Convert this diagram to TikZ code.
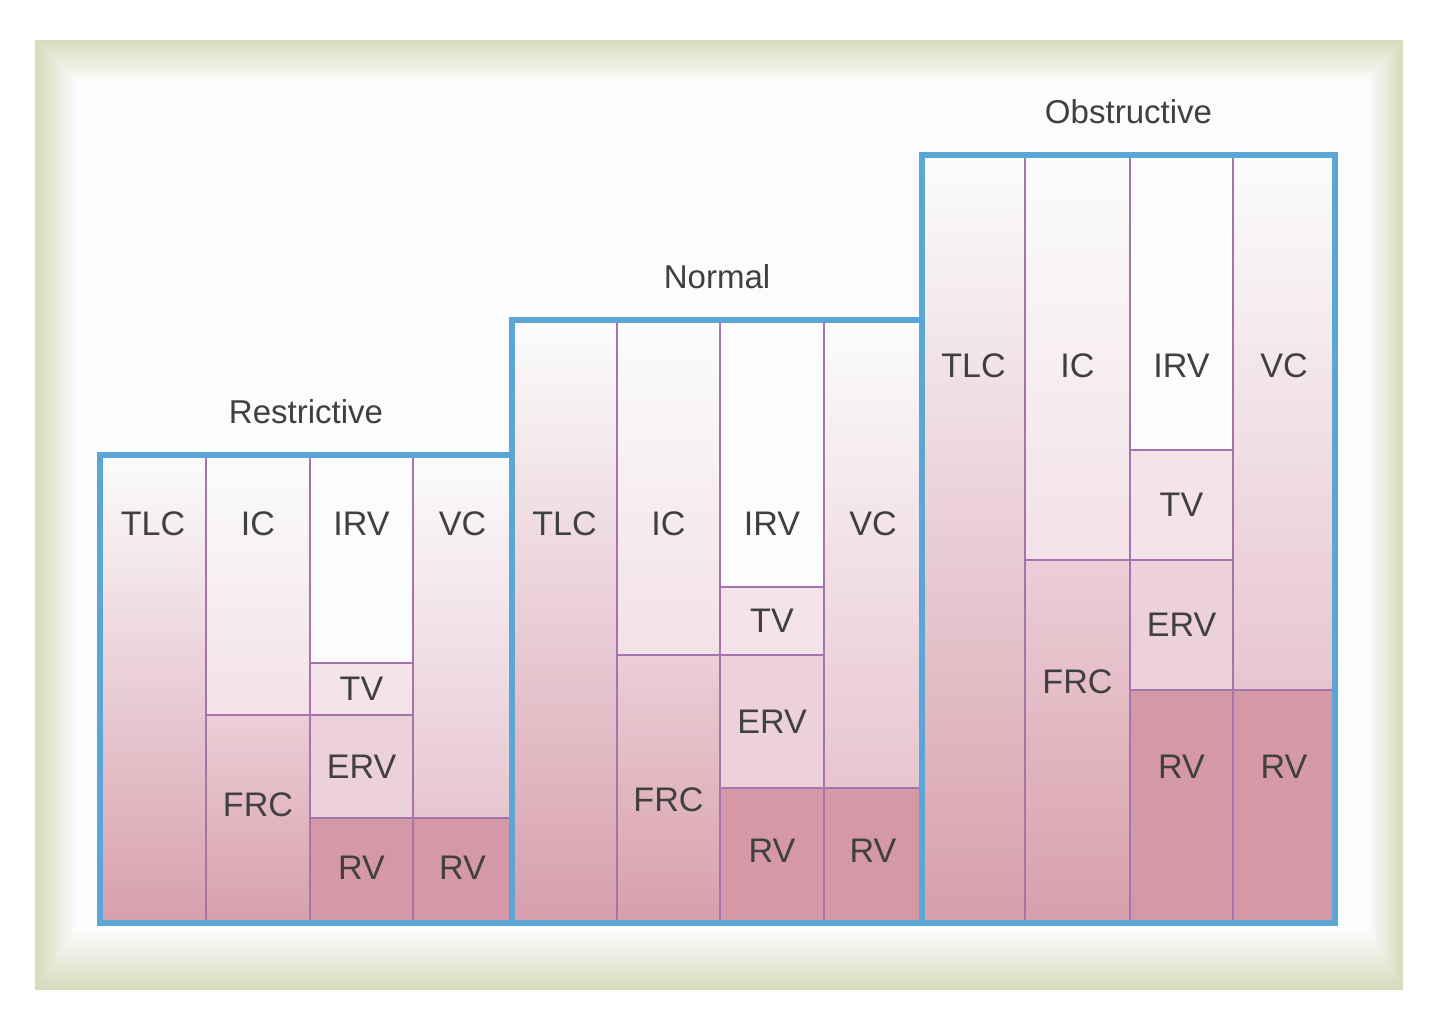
\documentclass[tikz,border=0pt]{standalone}
\usepackage{fontspec}
\setmainfont{Liberation Sans}

\definecolor{framegreen}{RGB}{214,220,188}
\definecolor{paper}{RGB}{251,252,253}
\definecolor{panelblue}{RGB}{92,166,214}
\definecolor{divpurple}{RGB}{165,115,175}
\definecolor{rvpink}{RGB}{213,152,167}
\definecolor{lowpink}{RGB}{215,158,172}
\definecolor{ervpink}{RGB}{236,210,216}
\definecolor{tvpink}{RGB}{244,227,231}
\definecolor{icpink}{RGB}{243,225,230}
\definecolor{vcpink}{RGB}{231,197,207}
\definecolor{frcpink}{RGB}{236,206,214}
\definecolor{labelgray}{RGB}{64,64,64}

\tikzset{
  lbl/.style={text=labelgray, font=\fontsize{9.7}{11}\selectfont, inner sep=0pt},
  ttl/.style={text=labelgray, font=\fontsize{9.4}{11}\selectfont, inner sep=0pt},
  divider/.style={draw=divpurple, line width=0.25mm},
  outline/.style={draw=panelblue, line width=0.6mm},
}

\begin{document}
\begin{tikzpicture}[x=0.1mm, y=-0.1mm]
\useasboundingbox (0,0) rectangle (1440,1008);
\fill[white] (0,0) rectangle (1440,1008);
\foreach \i [evaluate=\i as \p using int(100-100*\i/15)] in {0,...,15}
  \fill[framegreen!\p!paper] (35+2.7*\i,40+2.7*\i) rectangle (1403-2.3*\i,990-4*\i);

\foreach \n/\xa/\xb/\xc/\xd/\xe/\yt/\ys/\yv/\yr/\yl/\yf/\yrv/\title in
  {r/100/206/310/413/512/455/715/663/818/524/805/868/Restrictive,
   n/512/617/720/824/922/320/655/587/788/524/800/851/Normal,
   o/922/1025/1130/1233/1335/155/560/450/690/366/682/767/Obstructive}
{
  \shade[top color=paper, bottom color=lowpink] (\xa,\yt) rectangle (\xb,925);
  \shade[top color=paper, bottom color=icpink] (\xb,\yt) rectangle (\xc,\ys);
  \shade[top color=frcpink, bottom color=lowpink] (\xb,\ys) rectangle (\xc,925);
  \fill[paper] (\xc,\yt) rectangle (\xd,\yv);
  \fill[tvpink] (\xc,\yv) rectangle (\xd,\ys);
  \fill[ervpink] (\xc,\ys) rectangle (\xd,\yr);
  \shade[top color=paper, middle color=vcpink!45!paper, bottom color=vcpink] (\xd,\yt) rectangle (\xe,\yr);
  \fill[rvpink] (\xc,\yr) rectangle (\xe,925);

  \draw[divider] (\xb,\yt) -- (\xb,925);
  \draw[divider] (\xc,\yt) -- (\xc,925);
  \draw[divider] (\xd,\yt) -- (\xd,925);
  \draw[divider] (\xb,\ys) -- (\xd,\ys);
  \draw[divider] (\xc,\yv) -- (\xd,\yv);
  \draw[divider] (\xc,\yr) -- (\xe,\yr);
  \draw[outline] (\xa,\yt) rectangle (\xe,923);

  \node[ttl] (title\n) at (0.5*\xa+0.5*\xe,\yt-43) {\title};
  \node[lbl] (tlc\n) at (0.5*\xa+0.5*\xb,\yl) {TLC};
  \node[lbl] (ic\n) at (0.5*\xb+0.5*\xc,\yl) {IC};
  \node[lbl] (irv\n) at (0.5*\xc+0.5*\xd,\yl) {IRV};
  \node[lbl] (vc\n) at (0.5*\xd+0.5*\xe,\yl) {VC};
  \node[lbl] (tv\n) at (0.5*\xc+0.5*\xd,0.5*\yv+0.5*\ys) {TV};
  \node[lbl] (erv\n) at (0.5*\xc+0.5*\xd,0.5*\ys+0.5*\yr) {ERV};
  \node[lbl] (frc\n) at (0.5*\xb+0.5*\xc,\yf) {FRC};
  \node[lbl] (rva\n) at (0.5*\xc+0.5*\xd,\yrv) {RV};
  \node[lbl] (rvb\n) at (0.5*\xd+0.5*\xe,\yrv) {RV};
}
\end{tikzpicture}
\end{document}
